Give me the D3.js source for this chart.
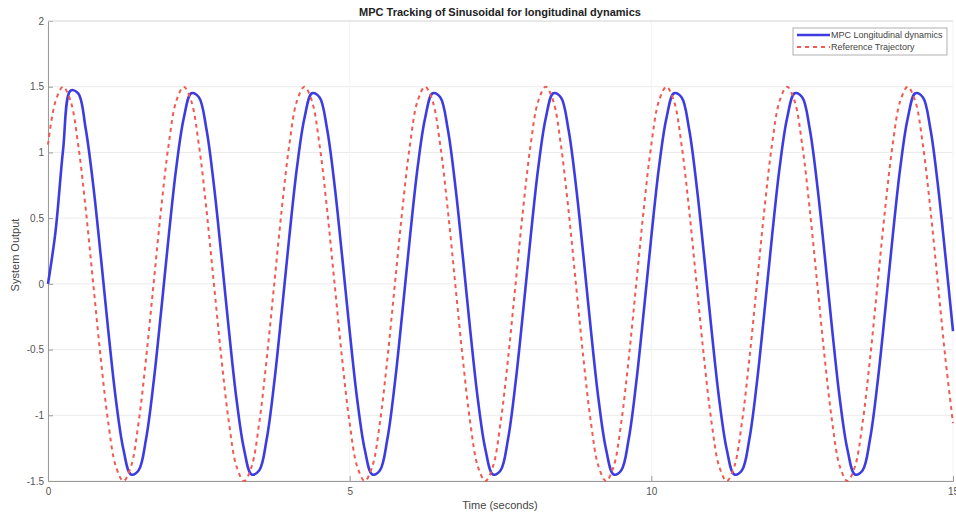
<!DOCTYPE html>
<html>
<head>
<meta charset="utf-8">
<script src="https://cdn.jsdelivr.net/npm/d3@7"></script>
<style>
  html, body { margin: 0; padding: 0; background: #ffffff; }
  svg { display: block; font-family: "Liberation Sans", Arial, sans-serif; }
</style>
</head>
<body>
<svg id="chart" width="956" height="514"></svg>
<script>
// Sample spacing of both signals, in seconds
const sampleStep = 0.125;

// Reference trajectory (sinusoid, amplitude 1.5, period 2 s)
const referenceValues = [
  1.06, 1.39, 1.5, 1.39, 1.06, 0.57, 0, -0.57, -1.06, -1.39, -1.5, -1.39, -1.06, -0.57, 0, 0.57,
  1.06, 1.39, 1.5, 1.39, 1.06, 0.57, 0, -0.57, -1.06, -1.39, -1.5, -1.39, -1.06, -0.57, 0, 0.57,
  1.06, 1.39, 1.5, 1.39, 1.06, 0.57, 0, -0.57, -1.06, -1.39, -1.5, -1.39, -1.06, -0.57, 0, 0.57,
  1.06, 1.39, 1.5, 1.39, 1.06, 0.57, 0, -0.57, -1.06, -1.39, -1.5, -1.39, -1.06, -0.57, 0, 0.57,
  1.06, 1.39, 1.5, 1.39, 1.06, 0.57, 0, -0.57, -1.06, -1.39, -1.5, -1.39, -1.06, -0.57, 0, 0.57,
  1.06, 1.39, 1.5, 1.39, 1.06, 0.57, 0, -0.57, -1.06, -1.39, -1.5, -1.39, -1.06, -0.57, 0, 0.57,
  1.06, 1.39, 1.5, 1.39, 1.06, 0.57, 0, -0.57, -1.06, -1.39, -1.5, -1.39, -1.06, -0.57, 0, 0.57,
  1.06, 1.39, 1.5, 1.39, 1.06, 0.57, 0, -0.57, -1.06
];

// Closed-loop MPC output (starts at rest, then follows with a small lag)
const mpcValues = [
  0, 0.40, 1.02, 1.47, 1.45, 1.18, 0.75, 0.21, -0.36, -0.88, -1.26, -1.45, -1.42, -1.18, -0.75, -0.21,
  0.36, 0.88, 1.26, 1.45, 1.42, 1.18, 0.75, 0.21, -0.36, -0.88, -1.26, -1.45, -1.42, -1.18, -0.75, -0.21,
  0.36, 0.88, 1.26, 1.45, 1.42, 1.18, 0.75, 0.21, -0.36, -0.88, -1.26, -1.45, -1.42, -1.18, -0.75, -0.21,
  0.36, 0.88, 1.26, 1.45, 1.42, 1.18, 0.75, 0.21, -0.36, -0.88, -1.26, -1.45, -1.42, -1.18, -0.75, -0.21,
  0.36, 0.88, 1.26, 1.45, 1.42, 1.18, 0.75, 0.21, -0.36, -0.88, -1.26, -1.45, -1.42, -1.18, -0.75, -0.21,
  0.36, 0.88, 1.26, 1.45, 1.42, 1.18, 0.75, 0.21, -0.36, -0.88, -1.26, -1.45, -1.42, -1.18, -0.75, -0.21,
  0.36, 0.88, 1.26, 1.45, 1.42, 1.18, 0.75, 0.21, -0.36, -0.88, -1.26, -1.45, -1.42, -1.18, -0.75, -0.21,
  0.36, 0.88, 1.26, 1.45, 1.42, 1.18, 0.75, 0.21, -0.36
];

const xTicks = [0, 5, 10, 15];
const yTicks = [-1.5, -1, -0.5, 0, 0.5, 1, 1.5, 2];
const seriesNames = ["MPC Longitudinal dynamics", "Reference Trajectory"];
const titleText = "MPC Tracking of Sinusoidal for longitudinal dynamics";
const xLabelText = "Time (seconds)";
const yLabelText = "System Output";

const svg = d3.select("#chart");
const plot = { left: 48, right: 953, top: 21, bottom: 481 };

const x = d3.scaleLinear().domain([0, 15]).range([plot.left, plot.right]);
const y = d3.scaleLinear().domain([-1.5, 2]).range([plot.bottom, plot.top]);

// Grid lines
const grid = svg.append("g").attr("class", "grid");
grid.selectAll("line.h").data(yTicks).join("line")
  .attr("class", "h")
  .attr("x1", plot.left).attr("x2", plot.right)
  .attr("y1", d => y(d)).attr("y2", d => y(d))
  .attr("stroke", "#ebebeb").attr("stroke-width", 1);
grid.selectAll("line.v").data(xTicks).join("line")
  .attr("class", "v")
  .attr("y1", plot.top).attr("y2", plot.bottom)
  .attr("x1", d => x(d)).attr("x2", d => x(d))
  .attr("stroke", "#f3f3f3").attr("stroke-width", 1);

// Axes
const axisColor = "#9a9a9a";
const xAxis = svg.append("g")
  .attr("transform", `translate(0,${plot.bottom})`)
  .call(d3.axisBottom(x).tickValues(xTicks).tickSize(-5).tickPadding(7).tickFormat(d3.format("d")));
const yAxis = svg.append("g")
  .attr("transform", `translate(${plot.left},0)`)
  .call(d3.axisLeft(y).tickValues(yTicks).tickSize(-5).tickPadding(4).tickFormat(d => String(d)));
[xAxis, yAxis].forEach(a => {
  a.select(".domain").attr("stroke", axisColor);
  a.selectAll(".tick line").attr("stroke", axisColor);
  a.selectAll(".tick text").attr("fill", "#555").attr("font-size", 10)
    .attr("font-family", "Liberation Sans, Arial, sans-serif");
});
// Top box edge
svg.append("line")
  .attr("x1", plot.left).attr("x2", plot.right)
  .attr("y1", plot.top).attr("y2", plot.top)
  .attr("stroke", "#dcdcdc");

// Series
const line = d3.line()
  .x((d, i) => x(i * sampleStep))
  .y(d => y(d))
  .curve(d3.curveCatmullRom.alpha(0.5));

svg.append("path")
  .datum(mpcValues)
  .attr("fill", "none")
  .attr("stroke", "#3c3ce2")
  .attr("stroke-width", 2.6)
  .attr("d", line);

svg.append("path")
  .datum(referenceValues)
  .attr("fill", "none")
  .attr("stroke", "#f05a50")
  .attr("stroke-width", 2)
  .attr("stroke-dasharray", "4,4")
  .attr("d", line);

// Title and axis labels
svg.append("text")
  .attr("x", 500).attr("y", 16)
  .attr("text-anchor", "middle")
  .attr("font-size", 11).attr("font-weight", "bold").attr("fill", "#222")
  .text(titleText);
svg.append("text")
  .attr("x", 500).attr("y", 509)
  .attr("text-anchor", "middle")
  .attr("font-size", 11).attr("fill", "#444")
  .text(xLabelText);
svg.append("text")
  .attr("transform", `translate(19,${(plot.top + plot.bottom) / 2 + 4}) rotate(-90)`)
  .attr("text-anchor", "middle")
  .attr("font-size", 11).attr("fill", "#444")
  .text(yLabelText);

// Legend
const legend = svg.append("g").attr("transform", "translate(793,28)");
legend.append("rect")
  .attr("width", 154).attr("height", 27)
  .attr("fill", "#fff").attr("stroke", "#b0b0b0").attr("stroke-width", 1);
const legendStyles = [
  { color: "#3c3ce2", width: 2.6, dash: null },
  { color: "#f05a50", width: 2, dash: "4,4" }
];
seriesNames.forEach((name, i) => {
  const ly = 7 + i * 12;
  legend.append("line")
    .attr("x1", 4).attr("x2", 37).attr("y1", ly).attr("y2", ly)
    .attr("stroke", legendStyles[i].color)
    .attr("stroke-width", legendStyles[i].width)
    .attr("stroke-dasharray", legendStyles[i].dash);
  legend.append("text")
    .attr("x", 38).attr("y", ly + 3)
    .attr("font-size", 9).attr("fill", "#444")
    .text(name);
});
</script>
</body>
</html>
